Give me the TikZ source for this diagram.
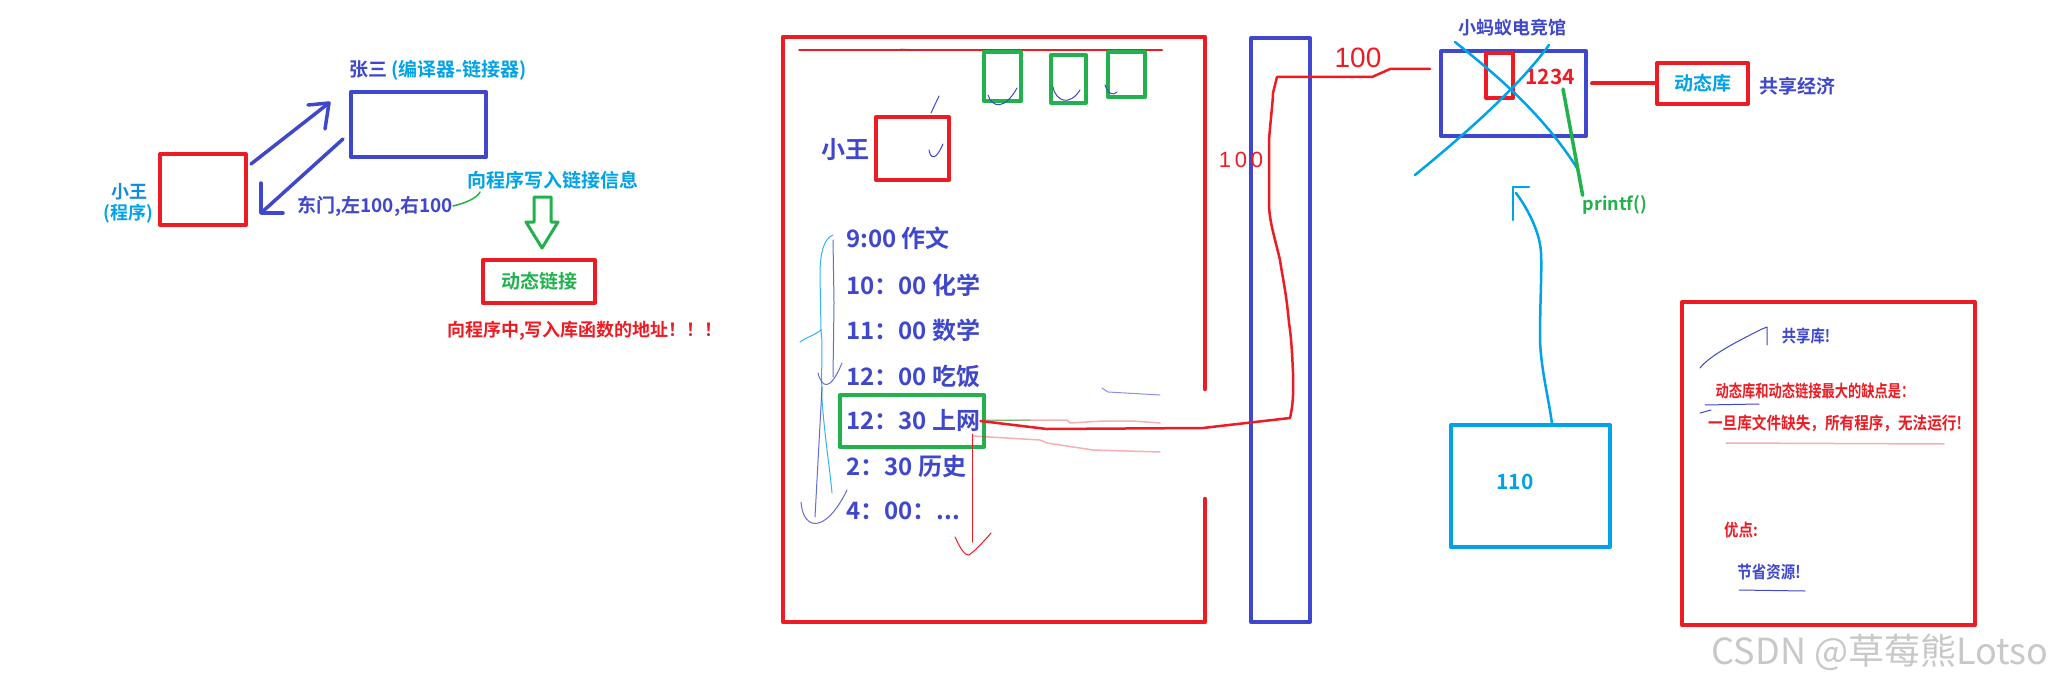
\documentclass[tikz,border=0pt]{standalone}
\usepackage{fontspec}
\setmainfont{Noto Sans CJK SC}
\newfontfamily\cjkb{Noto Sans CJK SC Bold}
\newfontfamily\hand{Liberation Sans}
\definecolor{myred}{RGB}{237,28,36}
\definecolor{myblue}{RGB}{63,72,204}
\definecolor{mycyan}{RGB}{0,162,232}
\definecolor{mygreen}{RGB}{34,177,76}
\definecolor{wmgray}{RGB}{200,200,200}
\newcommand{\fsz}[1]{\fontsize{#1}{#1}\selectfont}
\tikzset{
  rbox/.style={draw=myred, line width=4, inner sep=0},
  bbox/.style={draw=myblue, line width=4, inner sep=0},
  gbox/.style={draw=mygreen, line width=4, inner sep=0},
  cbox/.style={draw=mycyan, line width=4, inner sep=0},
  tx/.style={inner sep=0, font=\cjkb\fsz{19}},
  sched/.style={inner sep=0, anchor=west, text=myblue, font=\cjkb\fsz{24}},
  barrow/.style={draw=myblue, line width=3.5},
  thinblue/.style={draw=myblue, line width=1},
  faintred/.style={draw=myred, line width=1.5, opacity=0.35},
}
\begin{document}
\begin{tikzpicture}[x=1pt,y=-1pt, line cap=round, line join=round]
\useasboundingbox (0,0) rectangle (2068,690);
\fill[white] (0,0) rectangle (2068,690);

% ---------------- left part ----------------
\node[tx] (zsl) at (438,70) {\textcolor{myblue}{张三} \textcolor{mycyan}{(编译器-链接器)}};
\node[bbox, minimum width=135, minimum height=65] (zs) at (418.5,124.5) {};
\node[rbox, minimum width=86, minimum height=71] (xw) at (203,189.5) {};
\node[tx, font=\cjkb\fsz{18}, text=mycyan!75!myblue] (xwl1) at (129,192) {小王};
\node[tx, font=\cjkb\fsz{18}, text=mycyan] (xwl2) at (128,214) {(程序)};

\coordinate (a1s) at (251,164);
\coordinate (a1e) at (329,103);
\draw[barrow] (a1s) -- (a1e);
\draw[barrow] (308,105) -- (a1e) -- (325,129);
\coordinate (a2s) at (343,139);
\coordinate (a2e) at (261,213);
\draw[barrow] (a2s) -- (a2e);
\draw[barrow] (261,183) -- (a2e) -- (283,213);

\node[tx, text=myblue] (dm) at (375,206) {东门,左100,右100};
\node[tx, text=mycyan] (xx) at (553,180) {向程序写入链接信息};
\draw[draw=mygreen, line width=1.5] (dm.east) .. controls (466,203) and (477,198) .. (480,192);

\node[rbox, minimum width=112, minimum height=43] (dl) at (539,281.5) {};
\node[tx, text=mygreen] (dlt) at (dl.center) {动态链接};
\draw[draw=mygreen, line width=3] (534,197) -- (551,197) -- (551,222) -- (558,222) -- (542,248) -- (526,222) -- (534,222) -- cycle;
\node[tx, font=\cjkb\fsz{18}, text=myred] (addr) at (585,331) {向程序中,写入库函数的地址！！！};

% ---------------- middle part ----------------
\draw[draw=myred, line width=4.5] (1205,389) -- (1205,37) -- (783,37) -- (783,622) -- (1205,622) -- (1205,499);
\draw[draw=myred, line width=2] (799,50) -- (1162,50);
\draw[thinblue, opacity=.5] (900,49) -- (920,50);
\node[gbox, minimum width=37, minimum height=49] (g1) at (1002.5,76.5) {};
\node[gbox, minimum width=35, minimum height=48] (g2) at (1068.5,79) {};
\node[gbox, minimum width=37, minimum height=45] (g3) at (1126.5,74.5) {};
\draw[thinblue] (988,95) .. controls (992,108) and (1005,110) .. (1017,88);
\draw[thinblue] (1053,87) .. controls (1056,102) and (1070,106) .. (1080,90);
\draw[thinblue] (1105,85) .. controls (1108,94) and (1113,96) .. (1117,92);

\node[tx, font=\cjkb\fsz{24}, text=myblue] (xw2l) at (845,150) {小王};
\node[rbox, minimum width=73, minimum height=63] (xw2) at (912.5,148.5) {};
\draw[thinblue] (931,113) -- (939,96);
\draw[thinblue] (929,150) .. controls (931,160) and (936,160) .. (943,144);

\node[sched] (s1) at (846,238) {9:00 作文};
\node[sched] (s2) at (846,285) {10：00 化学};
\node[sched] (s3) at (846,330) {11：00 数学};
\node[sched] (s4) at (846,376) {12：00 吃饭};
\node[sched] (s5) at (846,421) {12：30 上网};
\node[sched] (s6) at (846,466) {2：30 历史};
\node[sched] (s7) at (846,511) {4：00：...};
\node[gbox, minimum width=144, minimum height=52] (s5box) at (912,421) {};

% squiggles left of schedule
\draw[draw=mycyan, line width=1, opacity=.8] (833,235) .. controls (825,238) and (820,250) .. (820,275) -- (821,330) .. controls (815,335) and (805,338) .. (800,342);
\draw[draw=mycyan, line width=1, opacity=.8] (821,330) .. controls (823,345) and (821,360) .. (822,400) .. controls (825,440) and (830,470) .. (832,493);
\draw[thinblue, opacity=.8] (833,240) -- (834,303) -- (833,377);
\draw[thinblue, opacity=.8] (818,373) .. controls (822,388) and (830,392) .. (842,363);
\draw[thinblue, opacity=.8] (822,387) -- (815,517);
\draw[thinblue, opacity=.8] (801,502) .. controls (803,530) and (825,535) .. (847,490);

% red down arrow under 上网
\draw[draw=myred, line width=1] (972,434) -- (972,542);
\draw[draw=myred, line width=1] (955,537) .. controls (960,548) and (965,556) .. (969,555) .. controls (976,550) and (985,540) .. (991,533);

% faint strokes
\draw[faintred] (987,420) -- (1067,420) -- (1070,423) -- (1103,421) -- (1133,421) -- (1160,423);
\draw[faintred] (973,436) -- (1040,440) -- (1047,443) -- (1093,450) -- (1160,452);
\draw[draw=mygreen, line width=1, opacity=.6] (985,421) -- (1030,420);
\draw[thinblue, opacity=.6] (1102,388) -- (1108,392) -- (1160,395);

% blue vertical bar
\node[bbox, minimum width=59, minimum height=584] (bar) at (1280.5,330) {};

% ---------------- top right ----------------
\node[tx, font=\cjkb\fsz{18}, text=myblue] (wbl) at (1512,28) {小蚂蚁电竞馆};
\node[bbox, minimum width=145, minimum height=85] (wb) at (1513.5,93.5) {};
\node[rbox, minimum width=27, minimum height=45] (slot) at (1499.5,75.5) {};
\node[tx, font=\cjkb\fsz{21}, text=myred] (n1234) at (1550,77) {1234};
\draw[draw=mycyan, line width=2.5] (1455,42) .. controls (1490,70) and (1540,110) .. (1577,168);
\draw[draw=mycyan, line width=2.5] (1549,45) .. controls (1520,85) and (1470,130) .. (1415,175);
\node[tx, font=\cjkb\fsz{18}, text=mygreen] (pf) at (1615,205) {printf()};
\draw[draw=mygreen, line width=3.5] (1563,89) -- (pf.north west);
\node[rbox, minimum width=91, minimum height=41] (dk) at (1702.5,83.5) {};
\node[tx, text=mycyan] (dkt) at (dk.center) {动态库};
\draw[draw=myred, line width=4] (wb.east |- dk.west) ++(4,0) -- (dk.west);
\node[tx, text=myblue] (gx) at (1797,86) {共享经济};

% red connector 上网 -> 电竞馆
\draw[draw=myred, line width=2.5] (s5.east) -- (1047,429) -- (1203,428) -- (1220,426) -- (1290,418)
  .. controls (1294,400) and (1293,390) .. (1293,373) .. controls (1292,350) and (1291,335) .. (1289,323)
  .. controls (1286,290) and (1282,275) .. (1280,260) .. controls (1274,235) and (1269,220) .. (1269,203)
  -- (1269,140) .. controls (1271,115) and (1273,100) .. (1273,93) -- (1277,77) -- (1372,77) -- (1390,69) -- (1430,69);
\node[inner sep=0, font=\hand\fsz{28}, text=myred] (h1) at (1358,58) {100};
\node[inner sep=0, font=\hand\fsz{22}, text=myred] (h2) at (1241,160) {1\,0\,0};

% cyan arrow from 110
\node[cbox, minimum width=159, minimum height=122] (b110) at (1530.5,486) {};
\node[tx, font=\cjkb\fsz{21}, text=mycyan] (t110) at (1515,482) {110};
\coordinate (ctip) at (1513,187);
\draw[draw=mycyan, line width=2.5] (1552,424) .. controls (1549,400) and (1541,370) .. (1540,340)
  .. controls (1540,300) and (1542,270) .. (1541,253) .. controls (1540,230) and (1525,205) .. (1516,193);
\draw[draw=mycyan, line width=2.5] (1513,220) -- (ctip) -- (1529,187);

% ---------------- right box ----------------
\node[rbox, minimum width=293, minimum height=323] (rb) at (1828.5,463.5) {};
\node[tx, font=\cjkb\fsz{17}, text=myblue] (gxk) at (1806,336) {\scalebox{0.84}[1]{共享库!}};
\draw[thinblue] (1700,368) .. controls (1710,355) and (1740,340) .. (1762,329) -- (1767,327) -- (1767,345);
\node[tx, font=\cjkb\fsz{17}, text=myred] (qd) at (1815,391) {\scalebox{0.78}[1]{动态库和动态链接最大的缺点是：}};
\draw[thinblue] (1705,405) -- (1759,404);
\draw[thinblue] (1700,413) -- (1711,410);
\node[tx, font=\cjkb\fsz{17}, text=myred] (ys) at (1835,423) {\scalebox{0.86}[1]{一旦库文件缺失，所有程序，无法运行!}};
\draw[faintred] (1726,443) -- (1944,444);
\node[tx, font=\cjkb\fsz{17}, text=myred] (yd) at (1741,530) {\scalebox{0.85}[1]{优点:}};
\node[tx, font=\cjkb\fsz{17}, text=myblue] (jz) at (1769,572) {\scalebox{0.85}[1]{节省资源!}};
\draw[thinblue] (1739,590) -- (1805,591);

% watermark
\node[inner sep=0, font=\fsz{36}, text=wmgray] (wm) at (1880,652) {CSDN @草莓熊Lotso};
\end{tikzpicture}
\end{document}
